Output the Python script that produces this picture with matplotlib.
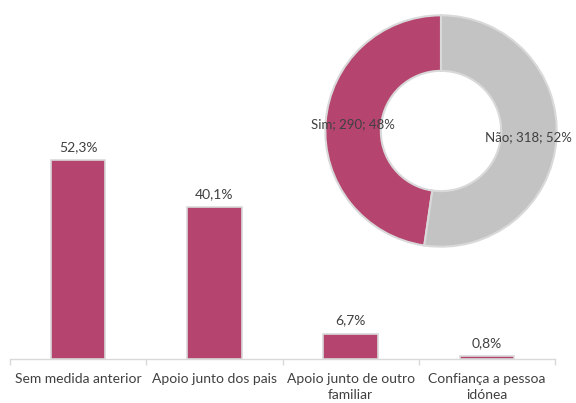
import matplotlib
matplotlib.use("Agg")
import matplotlib.pyplot as plt
import numpy as np

plt.rcParams['font.family'] = ['Lato', 'DejaVu Sans']

categories = ["Sem medida anterior", "Apoio junto dos pais", "Apoio junto de outro\nfamiliar", "Confiança a pessoa\nidónea"]
values = [52.3, 40.1, 6.7, 0.8]
value_labels = ["52,3%", "40,1%", "6,7%", "0,8%"]

donut_names = ["Sim", "Não"]
donut_counts = [290, 318]
donut_pcts = ["48%", "52%"]

pink = "#b5446e"
grey = "#c3c3c3"
edge = "#d9d9d9"
text_col = "#404040"

W, H = 576, 403
fig = plt.figure(figsize=(W/100, H/100), dpi=100)

# Bar chart axes
left, right, bottom_px = 10, 555, 359
top_px = 150
ax = fig.add_axes([left/W, (H-bottom_px)/H, (right-left)/W, (bottom_px-top_px)/H])
x = np.arange(len(categories))
ax.bar(x, values, width=0.4, color=pink, edgecolor=edge, linewidth=1.2, zorder=3)
ax.set_xlim(-0.5, len(categories)-0.5)
ax.set_ylim(0, 55)
for xi, v, lab in zip(x, values, value_labels):
    ax.annotate(lab, (xi, v), xytext=(0, 5), textcoords='offset points',
                ha='center', va='bottom', fontsize=10, color=text_col)
for s in ['top', 'right', 'left']:
    ax.spines[s].set_visible(False)
ax.spines['bottom'].set_color(edge)
ax.spines['bottom'].set_linewidth(1.0)
ax.set_yticks([])
ax.set_xticks(np.arange(-0.5, len(categories), 1.0))
ax.set_xticklabels([])
ax.set_xticks(x, minor=True)
ax.set_xticklabels(categories, minor=True, fontsize=10, color=text_col, linespacing=1.45)
ax.tick_params(axis='x', which='major', length=4, color=edge, width=1)
ax.tick_params(axis='x', which='minor', length=0, pad=10)

# Donut axes
cx, cy, r = 441, 131, 118
ax2 = fig.add_axes([(cx-r)/W, (H-cy-r)/H, 2*r/W, 2*r/H])
wedges, _ = ax2.pie(donut_counts, colors=[pink, grey], startangle=90, counterclock=True,
                    radius=1.0, wedgeprops=dict(width=0.48, edgecolor=edge, linewidth=1.5))
ax2.set_xlim(-1.02, 1.02)
ax2.set_ylim(-1.02, 1.02)
ax2.set_aspect('equal')
ax2.axis('off')
for w, n, c, p in zip(wedges, donut_names, donut_counts, donut_pcts):
    th = np.deg2rad((w.theta1 + w.theta2) / 2)
    ax2.text(0.76*np.cos(th), 0.76*np.sin(th), f"{n}; {c}; {p}", ha='center', va='center',
             fontsize=9.5, color=text_col)

fig.savefig("out.png", dpi=100)
